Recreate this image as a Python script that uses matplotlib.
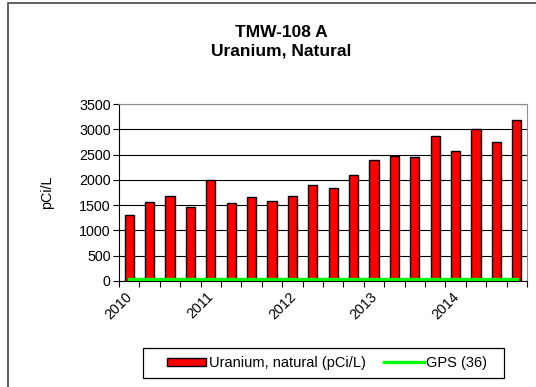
import numpy as np
import matplotlib.pyplot as plt
from matplotlib.patches import Rectangle

plt.rcParams['font.family'] = ['Liberation Sans', 'DejaVu Sans']

# quarterly samples, 2010 - 2014
quarters = ['2010 Q1', '2010 Q2', '2010 Q3', '2010 Q4',
            '2011 Q1', '2011 Q2', '2011 Q3', '2011 Q4',
            '2012 Q1', '2012 Q2', '2012 Q3', '2012 Q4',
            '2013 Q1', '2013 Q2', '2013 Q3', '2013 Q4',
            '2014 Q1', '2014 Q2', '2014 Q3', '2014 Q4']
uranium = [1300, 1560, 1680, 1470, 2000, 1540, 1660, 1580, 1680, 1900,
           1840, 2100, 2400, 2470, 2460, 2870, 2580, 3010, 2750, 3190]
gps_limit = 36
year_labels = ['2010', '2011', '2012', '2013', '2014']

W, H = 536, 387
fig = plt.figure(figsize=(W/100, H/100), dpi=100)
# outer chart frame
fig.patches.append(Rectangle((8/W, -0.1), 1.2, 1.1 - 3/H, transform=fig.transFigure,
                             fill=False, edgecolor='#555555', lw=1.3))

ax = fig.add_axes([119/W, 106/H, 408/W, 177/H])
x = np.arange(len(quarters)) + 0.5
bars = ax.bar(x, uranium, width=0.45, color='#ff0000', edgecolor='black', lw=1.0,
              zorder=3, label='Uranium, natural (pCi/L)')
gps_line, = ax.plot(x, [gps_limit] * len(x), color='#00ff00', lw=2.4, zorder=4,
                    label='GPS (36)')

ax.set_xlim(0, len(quarters))
ax.set_ylim(0, 3500)
ax.set_yticks(np.arange(0, 3501, 500))
ax.yaxis.grid(True, color='black', lw=0.8, zorder=0)
ax.set_axisbelow(True)

ax.set_xticks(np.arange(0, len(quarters) + 1, 4)[:5])
ax.set_xticklabels(year_labels, rotation=45, ha='center', va='top')
ax.set_xticks(np.arange(0, len(quarters) + 1), minor=True)
ax.tick_params(axis='x', which='both', direction='out', length=4, width=0.8, pad=2)
ax.tick_params(axis='y', direction='out', length=4, width=0.8, pad=2)
ax.tick_params(labelsize=10.3)

for side in ['top', 'right']:
    ax.spines[side].set_color('#909090')
ax.spines['left'].set_color('black')
ax.spines['bottom'].set_color('black')

ax.set_ylabel('pCi/L', fontsize=10.3, labelpad=18)

fig.text(281/W, 1 - 32.5/H, 'TMW-108 A', ha='center', va='center',
         fontsize=12.5, fontweight='bold')
fig.text(281/W, 1 - 51/H, 'Uranium, Natural', ha='center', va='center',
         fontsize=12.5, fontweight='bold')

# legend box drawn separately so the padding can be wider than the text
fig.patches.append(Rectangle((143/W, 1 - 378/H), 361/W, 30/H, transform=fig.transFigure,
                             fill=True, facecolor='white', edgecolor='black', lw=0.9))
leg = fig.legend([bars, gps_line], ['Uranium, natural (pCi/L)', 'GPS (36)'],
                 loc='center', bbox_to_anchor=(327/W, 1 - 363/H), ncol=2,
                 frameon=False, fontsize=10.5, handlelength=2.7,
                 handleheight=0.5, handletextpad=0.15, columnspacing=1.3)

fig.savefig('out.png', dpi=100)
